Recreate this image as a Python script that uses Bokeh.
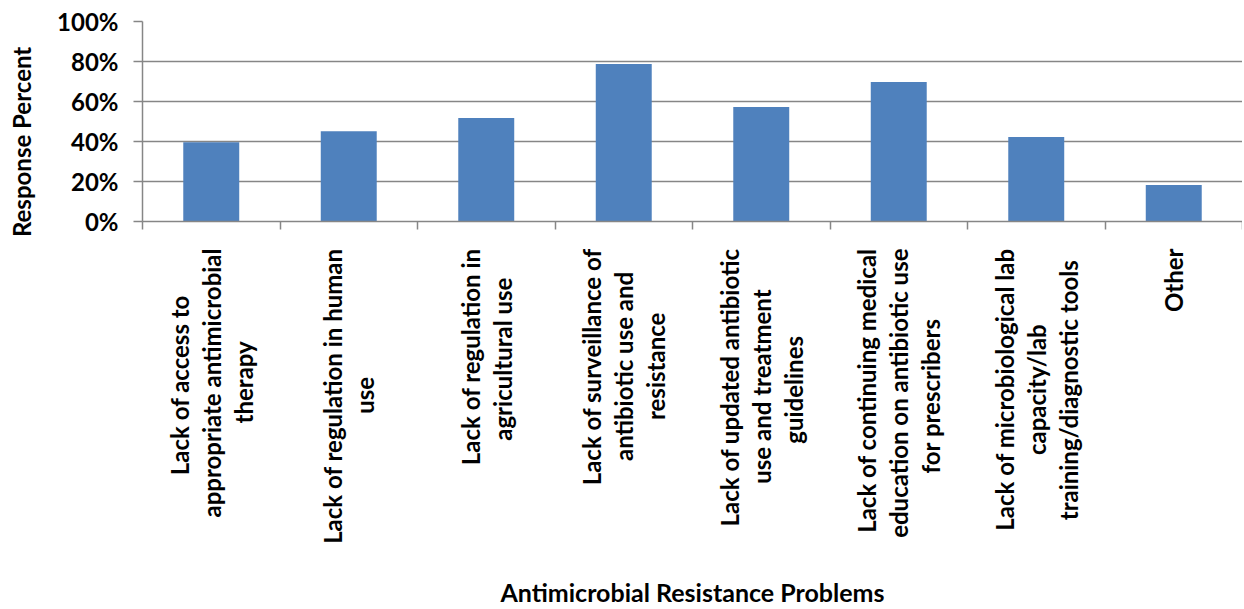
import math
from bokeh.plotting import figure
from bokeh.models import Range1d, FixedTicker, NumeralTickFormatter, CustomJSTickFormatter
from bokeh.embed import file_html
from bokeh.resources import INLINE

categories = [
    "Lack of access to\nappropriate antimicrobial\ntherapy",
    "Lack of regulation in human\nuse",
    "Lack of regulation in\nagricultural use",
    "Lack of surveillance of\nantibiotic use and\nresistance",
    "Lack of updated antibiotic\nuse and treatment\nguidelines",
    "Lack of continuing medical\neducation on antibiotic use\nfor prescribers",
    "Lack of microbiological lab\ncapacity/lab\ntraining/diagnostic tools",
    "Other",
]
values = [0.396, 0.451, 0.518, 0.788, 0.573, 0.697, 0.422, 0.183]
y_ticks = [0.0, 0.2, 0.4, 0.6, 0.8, 1.0]

FONT = "Lato"
GRAY = "#868686"
BLUE = "#4F81BD"
XLAB_SIZE = 24

n = len(categories)
xs = [i + 0.5 for i in range(n)]

p = figure(width=1242, height=609, x_range=Range1d(0, n), y_range=Range1d(0, 1),
           output_backend="svg", toolbar_location=None,
           min_border_left=142, min_border_top=21, min_border_right=0, min_border_bottom=383)
p.outline_line_color = None
p.background_fill_color = "white"
p.border_fill_color = "white"

p.xgrid.visible = False
p.ygrid.ticker = FixedTicker(ticks=y_ticks[1:])
p.ygrid.grid_line_color = GRAY
p.ygrid.grid_line_width = 1.5

p.vbar(x=xs, top=values, width=0.407, fill_color=BLUE, line_color=None)

# x axis: labels at category centres, ticks at category boundaries
xa = p.xaxis[0]
xa.ticker = FixedTicker(ticks=xs, minor_ticks=list(range(n + 1)))
xa.formatter = CustomJSTickFormatter(
    args=dict(labels=categories, font="bold %dpx %s" % (XLAB_SIZE, FONT)),
    code="""
const i = Math.floor(tick);
const lab = labels[i];
if (lab == null) return "";
const ctx = document.createElement("canvas").getContext("2d");
ctx.font = font;
const lines = lab.split("\\n");
const ws = lines.map(l => ctx.measureText(l).width);
const m = Math.max(...ws);
const sp = ctx.measureText("\\u00a0").width;
return lines.map((l, k) => l + "\\u00a0".repeat(Math.max(0, Math.round((m - ws[k]) / 2 / sp)))).join("\\n");
""")
xa.major_label_orientation = math.pi / 2
xa.major_tick_out = 0
xa.major_tick_in = 0
xa.minor_tick_out = 8
xa.minor_tick_in = 0
xa.minor_tick_line_color = GRAY
xa.minor_tick_line_width = 1.5
xa.axis_line_color = GRAY
xa.axis_line_width = 1.5
xa.major_label_standoff = 19
xa.major_label_text_font = FONT
xa.major_label_text_font_style = "bold"
xa.major_label_text_font_size = "%dpx" % XLAB_SIZE
xa.major_label_text_line_height = 1.1
xa.major_label_text_color = "black"
xa.axis_label = "Antimicrobial Resistance Problems"
xa.axis_label_text_font = FONT
xa.axis_label_text_font_style = "bold"
xa.axis_label_text_font_size = "25px"
xa.axis_label_text_color = "black"
xa.axis_label_standoff = 30

# y axis
ya = p.yaxis[0]
ya.ticker = FixedTicker(ticks=y_ticks)
ya.formatter = NumeralTickFormatter(format="0%")
ya.major_tick_out = 9
ya.major_tick_in = 0
ya.major_tick_line_color = GRAY
ya.major_tick_line_width = 1.5
ya.minor_tick_out = 0
ya.minor_tick_in = 0
ya.axis_line_color = GRAY
ya.axis_line_width = 1.5
ya.major_label_standoff = 15
ya.major_label_text_font = FONT
ya.major_label_text_font_style = "bold"
ya.major_label_text_font_size = "24px"
ya.major_label_text_color = "black"
ya.axis_label = "Response Percent" + "\u00a0" * 7
ya.axis_label_text_font = FONT
ya.axis_label_text_font_style = "bold"
ya.axis_label_text_font_size = "24px"
ya.axis_label_text_color = "black"
ya.axis_label_standoff = 18

open("out.html", "w").write(file_html(p, INLINE))
